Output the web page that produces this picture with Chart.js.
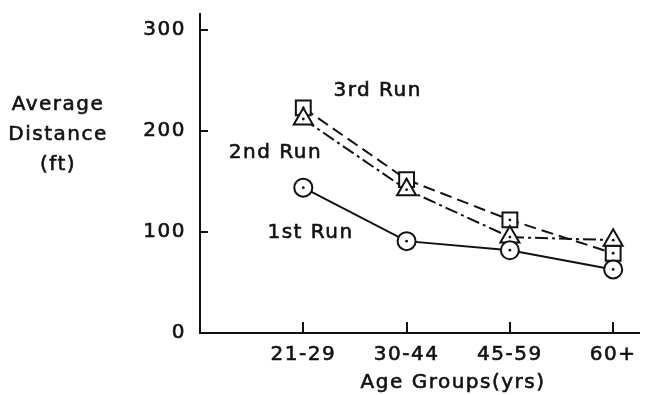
<!DOCTYPE html>
<html>
<head>
<meta charset="utf-8">
<script src="https://cdn.jsdelivr.net/npm/chart.js@4/dist/chart.umd.min.js"></script>
<style>
  html, body { margin: 0; padding: 0; background: #fff; }
  canvas { display: block; }
</style>
</head>
<body>
<canvas id="chart" width="652" height="395"></canvas>
<script>
// Age groups along the x axis
const ageGroups = ['21-29', '30-44', '45-59', '60+'];
// Average distance (ft) per run
const firstRun  = [144, 91, 82, 63];
const secondRun = [212, 142, 95, 92];
const thirdRun  = [223, 152, 112, 79];
// Y axis ticks
const yTicks = [0, 100, 200, 300];

const FONT = '"DejaVu Sans", sans-serif';
const FONT_SIZE = 20;
const SPACING = '1.5px';
const TEXT_STROKE = 0.6;
const INK = '#111';

const toPoints = arr => arr.map((v, i) => ({ x: i, y: v }));

// Inward tick marks, marker centre dots and free text labels
const decorations = {
  id: 'decorations',
  beforeDraw(chart) {
    chart.ctx.letterSpacing = SPACING;
  },
  afterDatasetsDraw(chart) {
    const ctx = chart.ctx;
    ctx.save();
    ctx.fillStyle = INK;
    chart.data.datasets.forEach((ds, di) => {
      chart.getDatasetMeta(di).data.forEach(pt => {
        ctx.beginPath();
        ctx.arc(pt.x, pt.y, 1.4, 0, Math.PI * 2);
        ctx.fill();
      });
    });
    ctx.restore();
  },
  afterDraw(chart) {
    const ctx = chart.ctx;
    const xs = chart.scales.x, ys = chart.scales.y;
    const area = chart.chartArea;
    ctx.save();
    ctx.strokeStyle = INK;
    ctx.lineWidth = 2;
    // y ticks point to the right, into the plot
    yTicks.forEach(v => {
      if (v === 0) return;
      const y = Math.round(ys.getPixelForValue(v));
      ctx.beginPath();
      ctx.moveTo(area.left, y);
      ctx.lineTo(area.left + 8, y);
      ctx.stroke();
    });
    // x ticks point upward
    ageGroups.forEach((g, i) => {
      const x = Math.round(xs.getPixelForValue(i));
      ctx.beginPath();
      ctx.moveTo(x, area.bottom);
      ctx.lineTo(x, area.bottom - 11);
      ctx.stroke();
    });

    ctx.fillStyle = INK;
    ctx.font = FONT_SIZE + 'px ' + FONT;
    ctx.letterSpacing = SPACING;
    ctx.lineWidth = TEXT_STROKE;
    ctx.textAlign = 'center';
    ctx.textBaseline = 'middle';
    const text = (s, x, y) => { ctx.strokeText(s, x, y); ctx.fillText(s, x, y); };

    // y axis title, stacked horizontally
    ['Average', 'Distance', '(ft)'].forEach((line, k) => {
      text(line, 58, 105 + k * 30);
    });
    // x axis title
    text('Age Groups(yrs)', xs.getPixelForValue(1.45), 383);

    // series labels
    const labels = chart.options.plugins.decorations.labels;
    labels.forEach(l => {
      text(l.text, xs.getPixelForValue(l.x), ys.getPixelForValue(l.y));
    });
    ctx.restore();
  }
};

const baseDataset = {
  borderColor: INK,
  borderWidth: 2,
  pointBackgroundColor: '#fff',
  pointBorderColor: INK,
  pointBorderWidth: 2,
  tension: 0,
  fill: false
};

const tickFont = {
  color: INK,
  font: { family: FONT, size: FONT_SIZE },
  textStrokeColor: INK,
  textStrokeWidth: TEXT_STROKE
};

new Chart(document.getElementById('chart'), {
  type: 'line',
  data: {
    datasets: [
      { ...baseDataset, label: '1st Run', data: toPoints(firstRun),
        pointStyle: 'circle', pointRadius: 9 },
      { ...baseDataset, label: '2nd Run', data: toPoints(secondRun),
        pointStyle: 'triangle', pointRadius: 11, borderDash: [13, 4, 3, 4] },
      { ...baseDataset, label: '3rd Run', data: toPoints(thirdRun),
        pointStyle: 'rect', pointRadius: 10.5, borderDash: [12, 6] }
    ]
  },
  options: {
    responsive: false,
    animation: false,
    devicePixelRatio: 1,
    layout: { padding: { top: 14, right: 3, left: 0, bottom: 0 } },
    plugins: {
      legend: { display: false },
      tooltip: { enabled: false },
      decorations: {
        labels: [
          { text: '3rd Run', x: 0.72, y: 240 },
          { text: '2nd Run', x: -0.27, y: 179 },
          { text: '1st Run', x: 0.07, y: 99 }
        ]
      }
    },
    scales: {
      x: {
        type: 'linear',
        position: 'bottom',
        min: -1,
        max: 3.25,
        grid: { display: false, drawTicks: false },
        border: { display: true, color: INK, width: 2 },
        ticks: {
          ...tickFont,
          stepSize: 1,
          includeBounds: false,
          autoSkip: false,
          maxRotation: 0,
          padding: 10,
          callback: v => ageGroups[v] ?? ''
        },
        afterFit: s => { s.height = 62; s.paddingLeft = 0; s.paddingRight = 0; }
      },
      y: {
        type: 'linear',
        min: 0,
        max: 316,
        grid: { display: false, drawTicks: false },
        border: { display: true, color: INK, width: 2 },
        ticks: {
          ...tickFont,
          stepSize: 100,
          includeBounds: false,
          padding: 14,
          callback: v => (yTicks.includes(v) ? String(v) : '')
        },
        afterFit: s => { s.width = 200; s.paddingTop = 0; s.paddingBottom = 0; }
      }
    }
  },
  plugins: [decorations]
});
</script>
</body>
</html>
